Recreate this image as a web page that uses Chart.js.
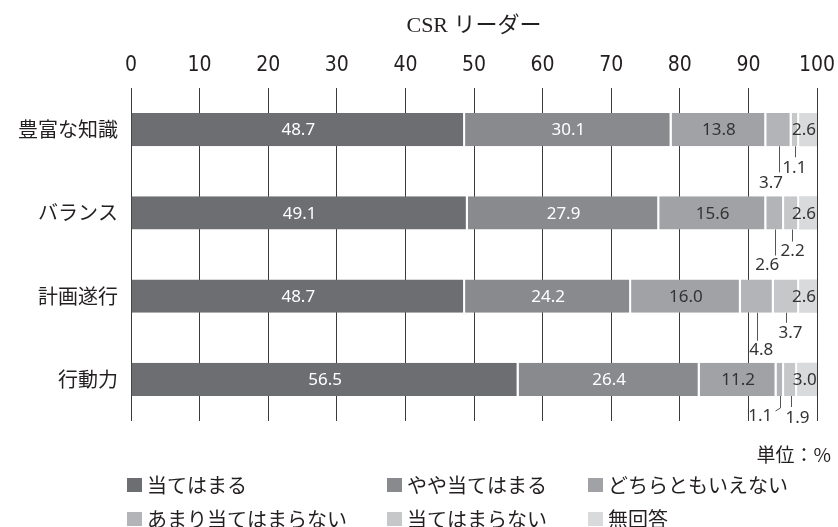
<!DOCTYPE html>
<html lang="ja">
<head>
<meta charset="utf-8">
<title>CSR リーダー</title>
<script src="https://cdn.jsdelivr.net/npm/chart.js@4.4.1/dist/chart.umd.min.js"></script>
<style>
  html, body { margin: 0; padding: 0; background: #fff; }
  #wrap { width: 838px; height: 527px; }
</style>
</head>
<body>
<div id="wrap"><canvas id="chart" width="838" height="527"></canvas></div>
<script>
// ---- datos ----
const categorias = ['豊富な知識', 'バランス', '計画遂行', '行動力'];
const series = ['当てはまる', 'やや当てはまる', 'どちらともいえない', 'あまり当てはまらない', '当てはまらない', '無回答'];
const atehamaru    = [48.7, 49.1, 48.7, 56.5];
const yayaAte      = [30.1, 27.9, 24.2, 26.4];
const dochiramo    = [13.8, 15.6, 16.0, 11.2];
const amariAte     = [3.7, 2.6, 4.8, 1.1];
const atehamaranai = [1.1, 2.2, 3.7, 1.9];
const mukaitou     = [2.6, 2.6, 2.6, 3.0];
const xTicks = [0, 10, 20, 30, 40, 50, 60, 70, 80, 90, 100];

const colores = ['#6d6e71', '#898a8d', '#a1a2a5', '#b3b4b7', '#c6c7c9', '#d9dadb'];

// ---- estilos ----
const FONT_NUM = '"Liberation Sans Narrow", "DejaVu Sans Condensed", "Noto Sans", sans-serif';
const FONT_LBL = '"Noto Sans", "Noto Sans CJK JP", sans-serif';
const FONT_JP = '"Noto Sans CJK JP", sans-serif';
const FONT_TITLE = '"Liberation Serif", "Noto Sans CJK JP", serif';
const INK = '#231f20';

// etiquetas con línea guía para los segmentos pequeños (índice de serie -> por fila)
// len: largo de la línea, dx: desplazamiento del texto, dy: texto bajo la línea, hook: remate lateral
const guias = {
  3: [{ len: 26, dx: -8, dy: 11 }, { len: 26, dx: -8, dy: 10 }, { len: 28, dx: 4, dy: 9 }, { len: 12, dx: -20, dy: 8, hook: -5 }],
  4: [{ len: 11, dx: -1, dy: 11 }, { len: 12, dx: 1, dy: 10 }, { len: 10, dx: 4, dy: 10 }, { len: 11, dx: 7, dy: 11 }]
};

const leyendaX = [127, 387, 588];
const leyendaY = [485, 519];

const valores = [atehamaru, yayaAte, dochiramo, amariAte, atehamaranai, mukaitou];

const datasets = valores.map((d, i) => ({
  label: series[i],
  data: d,
  backgroundColor: colores[i],
  borderColor: '#ffffff',
  borderWidth: i === valores.length - 1 ? 0 : { top: 0, right: 2, bottom: 0, left: 0 },
  categoryPercentage: 1,
  barPercentage: 0.4
}));

// ---- plugin: título, valores, guías, leyenda ----
const extras = {
  id: 'extras',
  afterDatasetsDraw(chart) {
    const ctx = chart.ctx;
    const area = chart.chartArea;
    ctx.save();

    // título
    ctx.fillStyle = INK;
    ctx.font = '22px ' + FONT_TITLE;
    ctx.textAlign = 'center';
    ctx.textBaseline = 'middle';
    ctx.fillText('CSR リーダー', (area.left + area.right) / 2, 26);

    // valores sobre las barras
    ctx.font = '17px ' + FONT_LBL;
    chart.data.datasets.forEach((ds, i) => {
      const meta = chart.getDatasetMeta(i);
      meta.data.forEach((bar, j) => {
        const txt = ds.data[j].toFixed(1);
        const centro = (bar.x + bar.base) / 2;
        if (i <= 2) {
          ctx.fillStyle = i < 2 ? '#ffffff' : '#333333';
          ctx.textAlign = 'center';
          ctx.fillText(txt, centro, bar.y + 1);
        } else if (i === 5) {
          ctx.fillStyle = '#333333';
          ctx.textAlign = 'right';
          ctx.fillText(txt, bar.x - 1, bar.y + 1);
        } else {
          const g = guias[i][j];
          const y0 = bar.y + bar.height / 2;
          const y1 = y0 + g.len;
          ctx.strokeStyle = '#555555';
          ctx.lineWidth = 1;
          ctx.beginPath();
          ctx.moveTo(Math.round(centro) + 0.5, y0);
          ctx.lineTo(Math.round(centro) + 0.5, y1);
          if (g.hook) ctx.lineTo(Math.round(centro) + 0.5 + g.hook, y1 + 3);
          ctx.stroke();
          ctx.fillStyle = '#333333';
          ctx.textAlign = 'center';
          ctx.fillText(txt, centro + g.dx, y1 + g.dy);
        }
      });
    });

    // unidad
    ctx.fillStyle = INK;
    ctx.font = '19px ' + FONT_JP;
    ctx.textAlign = 'right';
    ctx.fillText('単位：%', 831, 455);

    // leyenda en 2 filas x 3 columnas
    ctx.font = '20px ' + FONT_JP;
    ctx.textAlign = 'left';
    chart.data.datasets.forEach((ds, i) => {
      const x = leyendaX[i % 3];
      const y = leyendaY[Math.floor(i / 3)];
      ctx.fillStyle = ds.backgroundColor;
      ctx.fillRect(x, y - 7, 15, 14);
      ctx.fillStyle = INK;
      ctx.fillText(ds.label, x + 20, y);
    });

    ctx.restore();
  }
};

new Chart(document.getElementById('chart'), {
  type: 'bar',
  data: { labels: categorias, datasets: datasets },
  options: {
    indexAxis: 'y',
    responsive: false,
    animation: false,
    devicePixelRatio: 1,
    layout: { padding: { top: 50, right: 21, bottom: 106, left: 0 } },
    plugins: {
      legend: { display: false },
      tooltip: { enabled: false },
      title: { display: false }
    },
    scales: {
      x: {
        position: 'top',
        stacked: true,
        min: 0,
        max: 100,
        afterBuildTicks: s => { s.ticks = xTicks.map(v => ({ value: v })); },
        afterFit: s => {
          s.height = 38;
          // el margen derecho lo fija layout.padding
          s.paddingLeft = 0;
          s.paddingRight = 0;
        },
        grid: { color: '#3a3a3a', lineWidth: 1, drawTicks: false },
        border: { display: false },
        ticks: { font: { family: FONT_NUM, size: 21 }, color: INK, padding: 10, maxRotation: 0 }
      },
      y: {
        stacked: true,
        afterFit: s => { s.width = 131; },
        grid: { display: false, drawTicks: false },
        border: { display: false },
        ticks: { font: { family: FONT_JP, size: 20 }, color: INK, padding: 13 }
      }
    }
  },
  plugins: [extras]
});
</script>
</body>
</html>
